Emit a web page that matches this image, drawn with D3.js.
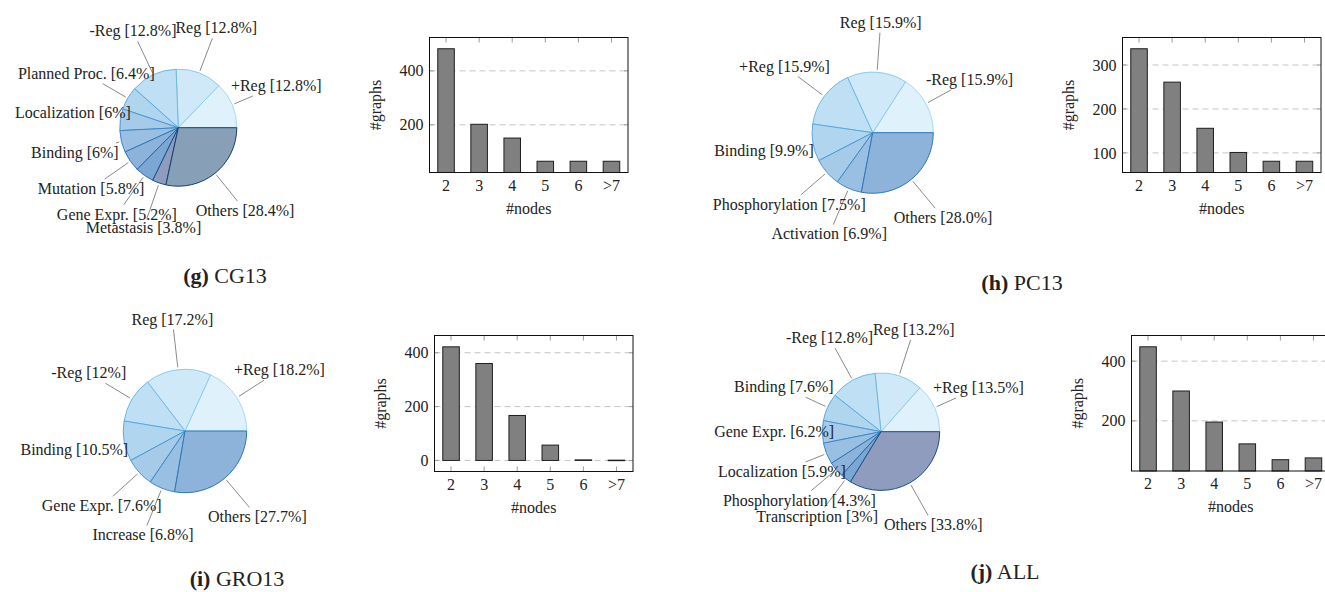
<!DOCTYPE html>
<html lang="en">
<head>
	<meta charset="UTF-8">
	<title>Event types and graph sizes</title>
	<script src="https://d3js.org/d3.v7.min.js"></script>
	<style>
		body { margin: 0; background: #fff; }
		svg text { font-family: 'Liberation Serif', 'DejaVu Serif', serif; fill: #222; }
	</style>
</head>
<body>

	<div class="box"></div>

	<script type="text/javascript">
		// categories shared by all bar charts
		let nodeCats = ['2', '3', '4', '5', '6', '>7']

		// (g) CG13
		let cg13Types = ['+Reg', 'Reg', '-Reg', 'Planned Proc.', 'Localization', 'Binding', 'Mutation', 'Gene Expr.', 'Metastasis', 'Others']
		let cg13Shares = ['12.8', '12.8', '12.8', '6.4', '6', '6', '5.8', '5.2', '3.8', '28.4']
		let cg13Graphs = [482, 202, 151, 65, 65, 65]
		let cg13Ticks = [200, 400]

		// (h) PC13
		let pc13Types = ['-Reg', 'Reg', '+Reg', 'Binding', 'Phosphorylation', 'Activation', 'Others']
		let pc13Shares = ['15.9', '15.9', '15.9', '9.9', '7.5', '6.9', '28.0']
		let pc13Graphs = [337, 261, 156, 101, 81, 81]
		let pc13Ticks = [100, 200, 300]

		// (i) GRO13
		let gro13Types = ['+Reg', 'Reg', '-Reg', 'Binding', 'Gene Expr.', 'Increase', 'Others']
		let gro13Shares = ['18.2', '17.2', '12', '10.5', '7.6', '6.8', '27.7']
		let gro13Graphs = [422, 360, 167, 57, 2, 1]
		let gro13Ticks = [0, 200, 400]

		// (j) ALL
		let allTypes = ['+Reg', 'Reg', '-Reg', 'Binding', 'Gene Expr.', 'Localization', 'Phosphorylation', 'Transcription', 'Others']
		let allShares = ['13.5', '13.2', '12.8', '7.6', '6.2', '5.9', '4.3', '3', '33.8']
		let allGraphs = [448, 300, 196, 123, 70, 76]
		let allTicks = [200, 400]

		// slice colours by position in the pie
		let sliceFill = ['#dff1fb', '#cfe9f8', '#bfe0f4', '#b0d6ef', '#a5cbe8', '#99c0e3', '#8db3da', '#7ca6d3', '#8f9cbd', '#87a0b8']
		let sliceStroke = ['#a6daf4', '#8acbef', '#6db8e6', '#5ca8de', '#4c97d3', '#3e87c7', '#2f76b8', '#2466a8', '#1c4c8a', '#173f72']

		// layout of the four sub figures
		let panels = [
			{ tag: '(g)', name: 'CG13', types: cg13Types, shares: cg13Shares, graphs: cg13Graphs, ticks: cg13Ticks,
				pie: { cx: 178.3, cy: 127.7, r: 58.5 }, box: { x: 429.5, y: 37.5, w: 198.5, h: 135 }, cap: { x: 225, y: 275 } },
			{ tag: '(h)', name: 'PC13', types: pc13Types, shares: pc13Shares, graphs: pc13Graphs, ticks: pc13Ticks,
				pie: { cx: 872.7, cy: 132.7, r: 60.6 }, box: { x: 1122.5, y: 37.5, w: 198.5, h: 135 }, cap: { x: 1022, y: 282 } },
			{ tag: '(i)', name: 'GRO13', types: gro13Types, shares: gro13Shares, graphs: gro13Graphs, ticks: gro13Ticks,
				pie: { cx: 185, cy: 431, r: 61.7 }, box: { x: 434.5, y: 335.5, w: 198.5, h: 136 }, cap: { x: 237, y: 578 } },
			{ tag: '(j)', name: 'ALL', types: allTypes, shares: allShares, graphs: allGraphs, ticks: allTicks,
				pie: { cx: 881, cy: 431.7, r: 58.7 }, box: { x: 1131.5, y: 335.5, w: 198.5, h: 135.5 }, cap: { x: 1005, y: 571 } }
		]

		let width = 1325
		let height = 592
		let svg = d3.select('.box').append('svg').attr('width', width).attr('height', height)

		function drawPie (g, p) {
			let data = p.types.map((t, i) => ({ type: t, share: p.shares[i], idx: i }))
			// start at 3 o'clock and go counter clockwise
			let pie = d3.pie().sort(null).value(d => +d.share)
				.startAngle(Math.PI / 2).endAngle(Math.PI / 2 - 2 * Math.PI)
			let arcs = pie(data)
			let arc = d3.arc().innerRadius(0).outerRadius(p.pie.r)
			let pg = g.append('g').attr('transform', `translate(${p.pie.cx},${p.pie.cy})`)

			pg.selectAll('path').data(arcs).enter().append('path')
				.attr('d', arc)
				.attr('fill', d => sliceFill[d.data.idx])
				.attr('stroke', d => sliceStroke[d.data.idx])
				.attr('stroke-width', 1)
				.attr('stroke-linejoin', 'round')

			let r = p.pie.r
			let lineG = pg.append('g')
			let labG = pg.append('g')
			arcs.forEach(d => {
				let a = (d.startAngle + d.endAngle) / 2
				let ux = Math.sin(a), uy = -Math.cos(a)
				let L = r * 1.82
				let t = labG.append('text')
					.attr('x', ux * L).attr('y', uy * L)
					.attr('dy', '0.32em')
					.attr('text-anchor', 'middle')
					.attr('font-size', '16px')
					.text(`${d.data.type} [${d.data.share}%]`)
				let bb = t.node().getBBox()
				let hw = bb.width / 2 + 2, hh = bb.height / 2 + 1
				let tEnd = Math.max(L - hw / Math.max(Math.abs(ux), 1e-6), L - hh / Math.max(Math.abs(uy), 1e-6))
				let tStart = r * 1.04
				if (tEnd > tStart + 2) {
					lineG.append('line')
						.attr('x1', ux * tStart).attr('y1', uy * tStart)
						.attr('x2', ux * tEnd).attr('y2', uy * tEnd)
						.attr('stroke', '#8a8a8a').attr('stroke-width', 1)
				}
			})
		}

		function drawBars (g, p) {
			let b = p.box
			let x = d3.scaleBand().domain(nodeCats).range([b.x, b.x + b.w]).paddingInner(0.5).paddingOuter(0.25)
			let lo = d3.min(p.graphs), hi = d3.max(p.graphs), pad = (hi - lo) * 0.1
			let y = d3.scaleLinear().domain([lo - pad, hi + pad]).range([b.y + b.h, b.y])
			let bottom = b.y + b.h

			// dashed grid
			g.selectAll('.grid').data(p.ticks).enter().append('line')
				.attr('class', 'grid')
				.attr('x1', b.x).attr('x2', b.x + b.w)
				.attr('y1', d => y(d)).attr('y2', d => y(d))
				.attr('stroke', '#c4c4c4').attr('stroke-dasharray', '6,4')

			// tick marks, inside the frame
			let tm = g.append('g').attr('stroke', '#9a9a9a')
			p.ticks.forEach(v => {
				tm.append('line').attr('x1', b.x).attr('x2', b.x + 4).attr('y1', y(v)).attr('y2', y(v))
				tm.append('line').attr('x1', b.x + b.w - 4).attr('x2', b.x + b.w).attr('y1', y(v)).attr('y2', y(v))
			})
			nodeCats.forEach(c => {
				let cx = x(c) + x.bandwidth() / 2
				tm.append('line').attr('x1', cx).attr('x2', cx).attr('y1', b.y).attr('y2', b.y + 5)
				tm.append('line').attr('x1', cx).attr('x2', cx).attr('y1', bottom).attr('y2', bottom - 5)
			})

			// bars
			let base = Math.min(y(0), bottom)
			g.selectAll('.bar').data(p.graphs).enter().append('rect')
				.attr('class', 'bar')
				.attr('x', (d, i) => x(nodeCats[i]))
				.attr('y', d => Math.min(y(d), base))
				.attr('width', x.bandwidth())
				.attr('height', d => Math.max(Math.abs(base - y(d)), 0.5))
				.attr('fill', '#808080')
				.attr('stroke', '#1e1e1e')
				.attr('stroke-width', 1)

			// frame
			g.append('rect')
				.attr('x', b.x).attr('y', b.y).attr('width', b.w).attr('height', b.h)
				.attr('fill', 'none').attr('stroke', '#111').attr('stroke-width', 1)

			// axes for the labels
			let ya = g.append('g').attr('transform', `translate(${b.x},0)`)
				.call(d3.axisLeft(y).tickValues(p.ticks).tickSize(0).tickPadding(6))
			let xa = g.append('g').attr('transform', `translate(0,${bottom})`)
				.call(d3.axisBottom(x).tickSize(0).tickPadding(7))
			;[ya, xa].forEach(a => {
				a.select('.domain').remove()
				a.selectAll('text').attr('font-size', '16px').attr('font-family', null)
			})

			g.append('text')
				.attr('x', b.x + b.w / 2).attr('y', bottom + 41)
				.attr('text-anchor', 'middle').attr('font-size', '16px')
				.text('#nodes')
			g.append('text')
				.attr('transform', `translate(${b.x - 49},${b.y + b.h / 2}) rotate(-90)`)
				.attr('text-anchor', 'middle').attr('font-size', '16px')
				.text('#graphs')
		}

		panels.forEach(p => {
			let g = svg.append('g')
			drawPie(g, p)
			drawBars(g, p)
			let cap = g.append('text')
				.attr('x', p.cap.x).attr('y', p.cap.y).attr('dy', '0.35em')
				.attr('text-anchor', 'middle').attr('font-size', '22px')
			cap.append('tspan').attr('font-weight', 'bold').text(p.tag)
			cap.append('tspan').text(' ' + p.name)
		})
	</script>
</body>
</html>
